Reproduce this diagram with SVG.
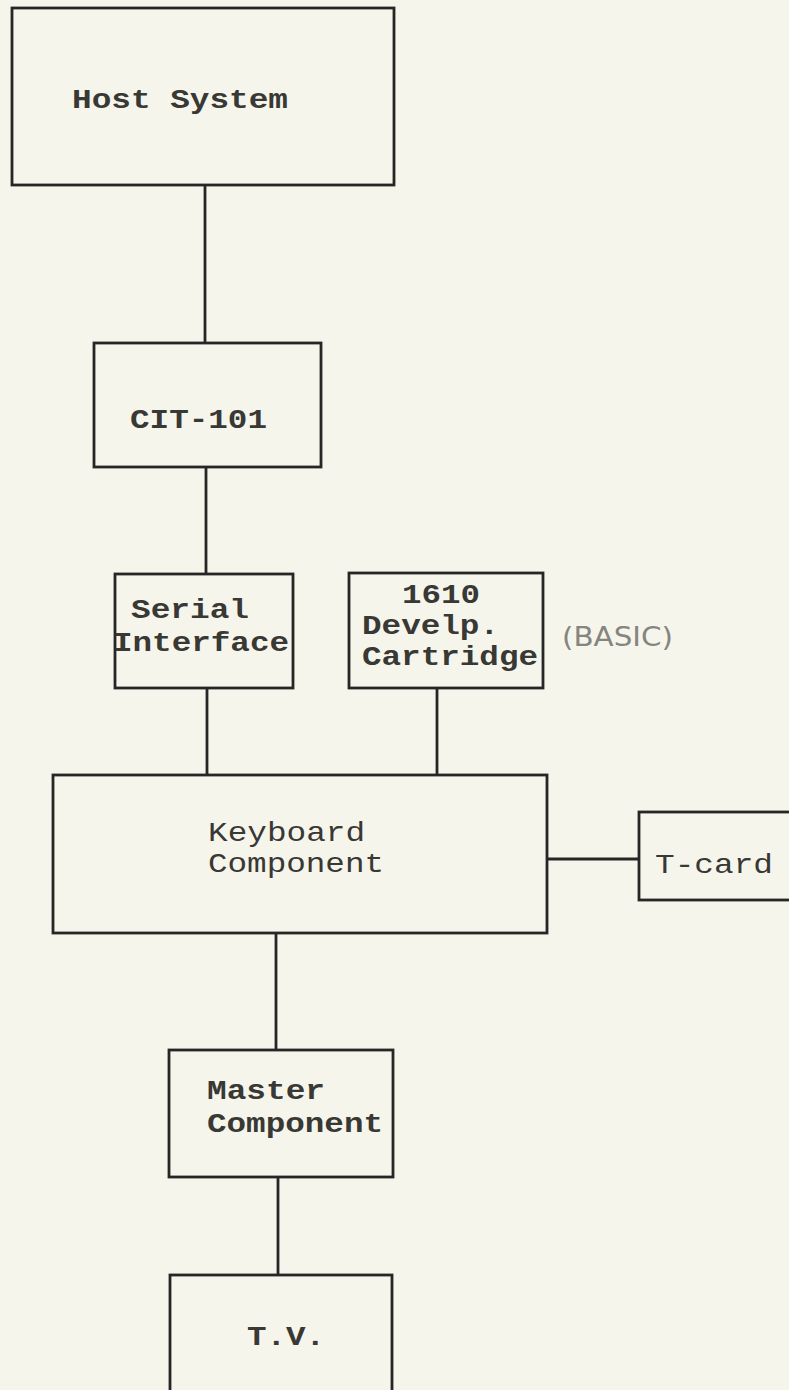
<svg xmlns="http://www.w3.org/2000/svg" width="789" height="1390" viewBox="0 0 789 1390">
<style>
.box{fill:none;stroke:#262626;stroke-width:2.8}
.conn line{stroke:#262626;stroke-width:2.8}
.t{font-family:"Liberation Mono","Courier New",monospace;font-size:28px;fill:#383834}
.b{font-weight:bold}
.hand{font-family:"DejaVu Sans","Liberation Sans",sans-serif;font-size:27px;fill:#85857f}
</style>
<rect x="0" y="0" width="789" height="1390" fill="#f6f5ec"/>
<g id="connectors" class="conn">
<line x1="205" y1="185" x2="205" y2="343"/>
<line x1="206" y1="467" x2="206" y2="574"/>
<line x1="207" y1="688" x2="207" y2="775"/>
<line x1="437" y1="688" x2="437" y2="775"/>
<line x1="547" y1="859" x2="639" y2="859"/>
<line x1="276" y1="933" x2="276" y2="1050"/>
<line x1="278" y1="1177" x2="278" y2="1275"/>
</g>
<g id="host">
<rect class="box" x="12" y="8" width="382" height="177"/>
<text class="t b" x="72" y="108" textLength="216" lengthAdjust="spacingAndGlyphs">Host System</text>
</g>
<g id="cit101">
<rect class="box" x="94" y="343" width="227" height="124"/>
<text class="t b" x="130" y="428" textLength="137" lengthAdjust="spacingAndGlyphs">CIT-101</text>
</g>
<g id="serial">
<rect class="box" x="115" y="574" width="178" height="114"/>
<text class="t b" x="131" y="618" textLength="118" lengthAdjust="spacingAndGlyphs">Serial</text>
<text class="t b" x="113" y="651" textLength="176" lengthAdjust="spacingAndGlyphs">Interface</text>
</g>
<g id="cartridge">
<rect class="box" x="349" y="573" width="194" height="115"/>
<text class="t b" x="402" y="603" textLength="78" lengthAdjust="spacingAndGlyphs">1610</text>
<text class="t b" x="362" y="634" textLength="137" lengthAdjust="spacingAndGlyphs">Develp.</text>
<text class="t b" x="362" y="665" textLength="176" lengthAdjust="spacingAndGlyphs">Cartridge</text>
<text class="hand" x="562" y="646" textLength="111" lengthAdjust="spacingAndGlyphs">(BASIC)</text>
</g>
<g id="keyboard">
<rect class="box" x="53" y="775" width="494" height="158"/>
<text class="t" x="208" y="841" textLength="157" lengthAdjust="spacingAndGlyphs">Keyboard</text>
<text class="t" x="208" y="872" textLength="176" lengthAdjust="spacingAndGlyphs">Component</text>
</g>
<g id="tcard">
<rect class="box" x="639" y="812" width="160" height="88"/>
<text class="t" x="655" y="873" textLength="118" lengthAdjust="spacingAndGlyphs">T-card</text>
</g>
<g id="master">
<rect class="box" x="169" y="1050" width="224" height="127"/>
<text class="t b" x="207" y="1099" textLength="118" lengthAdjust="spacingAndGlyphs">Master</text>
<text class="t b" x="207" y="1132" textLength="176" lengthAdjust="spacingAndGlyphs">Component</text>
</g>
<g id="tv">
<rect class="box" x="170" y="1275" width="222" height="130"/>
<text class="t b" x="247" y="1345" textLength="78" lengthAdjust="spacingAndGlyphs">T.V.</text>
</g>
</svg>
